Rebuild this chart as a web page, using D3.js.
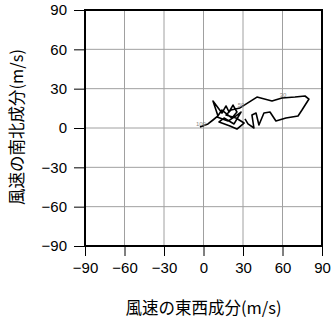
<!DOCTYPE html>
<html>
<head>
<meta charset="utf-8">
<script src="https://cdn.jsdelivr.net/npm/d3@7"></script>
<style>
body { margin: 0; background: #fff; }
</style>
</head>
<body>
<div id="chart"></div>
<script>
var width = 331;
var height = 318;

// hodograph data (m/s)
var uWind = [-2.7, 3.4, 7.2, 11.0, 7.2, 14.0, 17.1, 19.4, 22.4, 25.4, 21.6, 14.0, 10.3, 18.6, 24.7, 28.5,
    23.2, 15.6, 11.8, 20.1, 25.4, 30.8, 24.7, 17.1, 20.9, 27.7, 40.6, 52.0, 59.6, 69.5, 77.1, 80.1,
    74.8, 71.8, 62.6, 55.0, 50.5, 45.9, 42.1, 39.9, 36.8, 38.3, 33.8, 31.5];
var vWind = [0.8, 3.1, 6.1, 9.2, 20.6, 11.4, 16.8, 12.2, 17.5, 12.2, 7.6, 13.7, 8.4, 5.3, 9.2, 12.2,
    3.1, 7.6, 4.6, 1.5, -0.8, 3.8, 7.6, 9.9, 13.7, 15.3, 23.6, 20.6, 22.9, 23.6, 24.4, 22.1,
    13.7, 9.2, 7.6, 5.3, 12.2, 11.4, 2.3, 11.4, 9.9, 0, 3.1, 6.9];
var labelIndex = [0, 25, 28];
var labelText = ["100", "50", "30"];
var tickValues = [-90, -60, -30, 0, 30, 60, 90];

var svg = d3.select("#chart")
    .append("svg")
    .attr("width", width)
    .attr("height", height);

var x = d3.scaleLinear().domain([-90, 90]).range([85, 322]);
var y = d3.scaleLinear().domain([-90, 90]).range([246, 10]);

var fmt = function(d) { return d < 0 ? "\u2212" + Math.abs(d) : d; };

//grid lines
tickValues.forEach(function(t) {
    svg.append("line")
        .attr("x1", x(t)).attr("x2", x(t))
        .attr("y1", y(-90)).attr("y2", y(90))
        .attr("stroke", "#a0a0a0").attr("stroke-width", 1);
    svg.append("line")
        .attr("x1", x(-90)).attr("x2", x(90))
        .attr("y1", y(t)).attr("y2", y(t))
        .attr("stroke", "#a0a0a0").attr("stroke-width", 1);
});

//axes
var xAxis = svg.append("g")
    .attr("transform", "translate(0," + y(-90) + ")")
    .call(d3.axisBottom(x).tickValues(tickValues).tickSize(10).tickPadding(6).tickFormat(fmt));
var yAxis = svg.append("g")
    .attr("transform", "translate(" + x(-90) + ",0)")
    .call(d3.axisLeft(y).tickValues(tickValues).tickSize(11).tickPadding(7).tickFormat(fmt));
[xAxis, yAxis].forEach(function(g) {
    g.select(".domain").remove();
    g.selectAll("line").attr("stroke", "#000");
    g.selectAll("text")
        .style("font-size", "15px")
        .style("font-family", "'Liberation Sans', Arial, sans-serif")
        .attr("fill", "#000");
});

//frame
svg.append("rect")
    .attr("x", x(-90)).attr("y", y(90))
    .attr("width", x(90) - x(-90)).attr("height", y(-90) - y(90))
    .attr("fill", "none").attr("stroke", "#000").attr("stroke-width", 2);

//hodograph
var pts = uWind.map(function(u, i) { return [u, vWind[i]]; });
svg.append("path")
    .datum(pts)
    .attr("d", d3.line().x(function(d) { return x(d[0]); }).y(function(d) { return y(d[1]); }))
    .attr("fill", "none").attr("stroke", "#000").attr("stroke-width", 1.6)
    .attr("stroke-linejoin", "round");

labelIndex.forEach(function(idx, i) {
    svg.append("text")
        .attr("x", x(uWind[idx]) + 1)
        .attr("y", y(vWind[idx]) - 1)
        .attr("text-anchor", "middle")
        .style("font-size", "6px")
        .style("font-family", "'Liberation Sans', Arial, sans-serif")
        .attr("fill", "#888")
        .text(labelText[i]);
});

//titles
svg.append("text")
    .attr("x", x(0)).attr("y", 314)
    .attr("text-anchor", "middle")
    .style("font-size", "16.5px")
    .style("font-family", "'Noto Sans CJK JP', sans-serif")
    .text("風速の東西成分(m/s)");
svg.append("text")
    .attr("transform", "translate(23,127) rotate(-90)")
    .attr("text-anchor", "middle")
    .style("font-size", "16.5px")
    .style("font-family", "'Noto Sans CJK JP', sans-serif")
    .text("風速の南北成分(m/s)");
</script>
</body>
</html>
